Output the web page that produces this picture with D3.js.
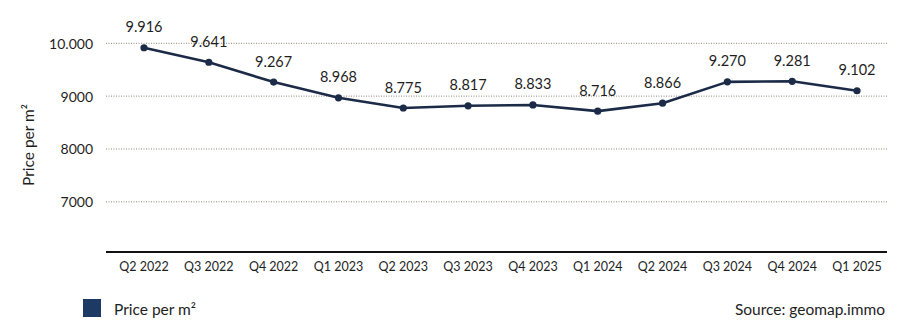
<!DOCTYPE html>
<html>
<head>
<meta charset="utf-8">
<script src="https://cdn.jsdelivr.net/npm/d3@7"></script>
<style>
  html, body { margin: 0; padding: 0; background: #fff; }
  svg { display: block; font-family: Lato, "Open Sans", sans-serif; }
</style>
</head>
<body>
<svg id="chart" width="898" height="330"></svg>
<script>
// Quarterly asking price per m² (EUR)
const quarters = ["Q2 2022", "Q3 2022", "Q4 2022", "Q1 2023", "Q2 2023", "Q3 2023",
                  "Q4 2023", "Q1 2024", "Q2 2024", "Q3 2024", "Q4 2024", "Q1 2025"];
const prices = [9916, 9641, 9267, 8968, 8775, 8817, 8833, 8716, 8866, 9270, 9281, 9102];
const yTicks = [7000, 8000, 9000, 10000];
const seriesName = "Price per m²";
const sourceText = "Source: geomap.immo";

const svg = d3.select("#chart");
const lineColor = "#1b2b47";
const textColor = "#1e1e1e";

const plotLeft = 106, plotRight = 887;
const x = d3.scalePoint().domain(quarters).range([144, 857]);
const y = d3.scaleLinear().domain([6050, 10000]).range([252, 43.3]);

// dotted horizontal gridlines
const grid = svg.append("g");
grid.selectAll("line").data(yTicks).join("line")
  .attr("x1", plotLeft).attr("x2", plotRight)
  .attr("y1", d => y(d)).attr("y2", d => y(d))
  .attr("stroke", "#8f8676").attr("stroke-width", 1)
  .attr("stroke-dasharray", "1,1.5");

// y tick labels
const fmt = d => d >= 10000 ? d3.format(",")(d).replace(",", ".") : String(d);
svg.append("g").selectAll("text").data(yTicks).join("text")
  .attr("x", 93).attr("y", d => y(d))
  .attr("text-anchor", "end").attr("dominant-baseline", "central")
  .attr("font-size", 14).attr("fill", textColor)
  .text(fmt);

// x axis baseline
svg.append("line")
  .attr("x1", plotLeft).attr("x2", plotRight)
  .attr("y1", y(6050)).attr("y2", y(6050))
  .attr("stroke", "#111").attr("stroke-width", 2);

// x tick labels
svg.append("g").selectAll("text").data(quarters).join("text")
  .attr("x", d => x(d)).attr("y", 266)
  .attr("text-anchor", "middle").attr("dominant-baseline", "central")
  .attr("font-size", 12.5).attr("fill", textColor)
  .text(d => d);

// y axis title
svg.append("text")
  .attr("transform", "translate(28,145) rotate(-90)")
  .attr("text-anchor", "middle").attr("dominant-baseline", "central")
  .attr("font-size", 15.5).attr("fill", textColor)
  .text(seriesName);

// price line
const data = quarters.map((q, i) => ({ q, v: prices[i] }));
svg.append("path").datum(data)
  .attr("fill", "none").attr("stroke", lineColor).attr("stroke-width", 2.6)
  .attr("stroke-linejoin", "round")
  .attr("d", d3.line().x(d => x(d.q)).y(d => y(d.v)));

svg.append("g").selectAll("circle").data(data).join("circle")
  .attr("cx", d => x(d.q)).attr("cy", d => y(d.v)).attr("r", 3.6)
  .attr("fill", lineColor);

// value labels
const valFmt = v => d3.format(",")(v).replace(",", ".");
svg.append("g").selectAll("text").data(data).join("text")
  .attr("x", d => x(d.q)).attr("y", d => y(d.v) - 21)
  .attr("text-anchor", "middle").attr("dominant-baseline", "central")
  .attr("font-size", 14.5).attr("fill", textColor)
  .text(d => valFmt(d.v));

// legend
svg.append("rect").attr("x", 83).attr("y", 299).attr("width", 18).attr("height", 18)
  .attr("fill", "#1c3a63");
svg.append("text").attr("x", 114).attr("y", 309)
  .attr("dominant-baseline", "central").attr("font-size", 15.5).attr("fill", textColor)
  .text(seriesName);

// source note
svg.append("text").attr("x", 885).attr("y", 309)
  .attr("text-anchor", "end").attr("dominant-baseline", "central")
  .attr("font-size", 15.5).attr("fill", textColor)
  .text(sourceText);
</script>
</body>
</html>
